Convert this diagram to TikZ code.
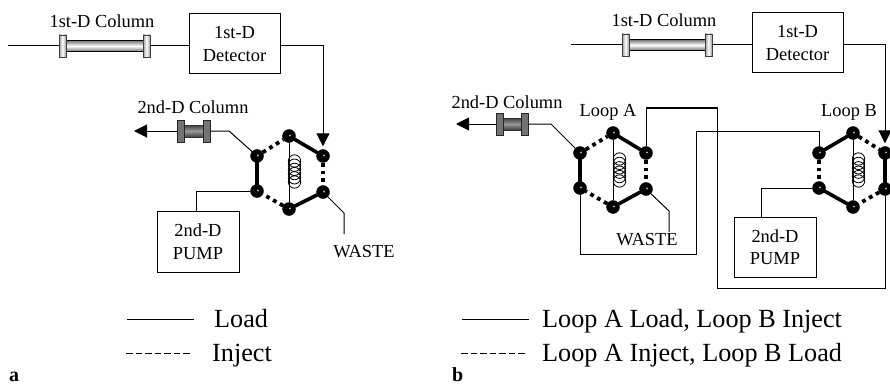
\documentclass[tikz,border=0pt]{standalone}
\usepackage{fontspec}
\setmainfont{Liberation Serif}
\usetikzlibrary{arrows.meta,calc}
\tikzset{
  lbl/.style={inner sep=0pt,font=\fontsize{18.4}{22.5}\selectfont,align=center},
  legendtxt/.style={inner sep=0pt,anchor=base west,font=\fontsize{26.2}{30}\selectfont},
  panel/.style={inner sep=0pt,anchor=base west,font=\fontsize{20}{24}\selectfont\bfseries},
  boxn/.style={draw,line width=1pt,inner sep=0pt,minimum width=#1,font=\fontsize{18.4}{22.5}\selectfont,align=center},
  port/.style={circle,fill=black,draw=black,inner sep=0pt,minimum size=13pt,
    path picture={\fill[gray!70] ($(path picture bounding box.center)+(1,-0.5)$) circle (1.1pt);}},
  pipe/.style={line width=1pt},
  onseg/.style={line width=3.6pt,line cap=round},
  offseg/.style={line width=3.8pt,dash pattern=on 3.8pt off 4pt},
  loopl/.style={line width=1pt},
  coil/.style={line width=.8pt},
  tubeL/.style={inner sep=0pt,draw=black,line width=1.2pt,top color=black!55,bottom color=black!55,middle color=white},
  flangeL/.style={inner sep=0pt,draw=black!75,line width=.8pt,left color=black!40,right color=black!40,middle color=white},
  tubeD/.style={inner sep=0pt,draw=black!80,line width=.8pt,top color=black!75,bottom color=black!75,middle color=black!40},
  flangeD/.style={inner sep=0pt,draw=black!85,line width=.8pt,fill=black!55},
  arr/.style={-{Triangle[length=13pt,width=13pt]},line width=1pt},
  legdash/.style={line width=1pt,dash pattern=on 6.5pt off 3pt},
}
\begin{document}
\begin{tikzpicture}[x=1pt,y=-1pt]
\useasboundingbox (0,0) rectangle (890,385);
% ===== panel a =====
\node[boxn=91pt,minimum height=60pt] (detA) at (234.5,44) {1st-D\\Detector};
\node[boxn=82pt,minimum height=61pt] (pumpA) at (198,241.5) {2nd-D\\PUMP};
\node[tubeL,minimum width=78pt,minimum height=11pt] (c1tA) at (104.5,46) {};
\node[flangeL,minimum width=7pt,minimum height=22pt] (c1lA) at (62.5,46) {};
\node[flangeL,minimum width=7pt,minimum height=22pt] (c1rA) at (146.5,46) {};
\node[tubeD,minimum width=19pt,minimum height=12pt] (c2tA) at (194,131) {};
\node[flangeD,minimum width=7pt,minimum height=22pt] (c2lA) at (181,131) {};
\node[flangeD,minimum width=7pt,minimum height=22pt] (c2rA) at (207,131) {};
\coordinate (startA) at (8,46);
\coordinate (endA) at (134,131);
\coordinate (detcA) at (323,46);
\coordinate (bendA) at (229,131);
\coordinate (wasteA1) at (344,213);
\coordinate (wasteA2) at (344,234);
\coordinate (pumpTopA) at (196,211);
\node[port] (a1) at (257,156) {};
\node[port] (a2) at (289,136) {};
\node[port] (a3) at (323,156) {};
\node[port] (a4) at (323,192) {};
\node[port] (a5) at (289,209) {};
\node[port] (a6) at (257,191) {};
\draw[loopl] (a2) -- (a5);
\foreach \yy in {161,165.2,169.4,173.6,177.8,182} \draw[coil] (294.5,\yy) circle (6.2pt);
\draw[onseg] (a1) -- (a6);
\draw[onseg] (a2) -- (a3);
\draw[onseg] (a4) -- (a5);
\draw[offseg] (a1) -- (a2);
\draw[offseg] (a3) -- (a4);
\draw[offseg] (a5) -- (a6);
\draw[pipe] (startA) -- (c1lA);
\draw[pipe] (c1rA) -- (c1rA -| detA.west);
\draw[arr,shorten >=3pt] (detA.east |- detcA) -- (detcA) -- (a3);
\draw[pipe] (a1) -- (bendA) -- (c2rA);
\draw[arr] (c2lA) -- (endA);
\draw[pipe] (a6) -| (pumpTopA);
\draw[pipe] (a4) -- (wasteA1) -- (wasteA2);
\node[lbl] (t1) at (102,21) {1st-D Column};
\node[lbl] (t2) at (193,107) {2nd-D Column};
\node[lbl] (t3) at (364,252) {WASTE};
\coordinate (lgA1) at (127,319);
\coordinate (lgA2) at (194,319);
\coordinate (lgA3) at (126,353);
\coordinate (lgA4) at (192,353);
\draw[pipe] (lgA1) -- (lgA2);
\draw[legdash] (lgA3) -- (lgA4);
\node[legendtxt] (t4) at (214,327) {Load};
\node[legendtxt] (t5) at (212,361) {Inject};
\node[panel] (pa) at (9,381) {a};
% ===== panel b =====
\node[boxn=91pt,minimum height=60pt] (detB) at (797.5,43) {1st-D\\Detector};
\node[boxn=82pt,minimum height=60pt] (pumpB) at (775,247) {2nd-D\\PUMP};
\node[tubeL,minimum width=78pt,minimum height=11pt] (c1tB) at (667,45) {};
\node[flangeL,minimum width=7pt,minimum height=22pt] (c1lB) at (625.5,45) {};
\node[flangeL,minimum width=7pt,minimum height=22pt] (c1rB) at (708.5,45) {};
\node[tubeD,minimum width=19pt,minimum height=12pt] (c2tB) at (512,124) {};
\node[flangeD,minimum width=7pt,minimum height=22pt] (c2lB) at (499.5,124) {};
\node[flangeD,minimum width=7pt,minimum height=22pt] (c2rB) at (525,124) {};
\coordinate (startB) at (571,45);
\coordinate (endB) at (456,124);
\coordinate (detcB) at (885,45);
\coordinate (bendB) at (551,124);
\coordinate (wasteB1) at (669,211);
\coordinate (wasteB2) at (669,232);
\coordinate (pumpTopB) at (761,217);
\coordinate (r1) at (646,108);
\coordinate (r2) at (717,108);
\coordinate (r3) at (717,288);
\coordinate (r4) at (885,288);
\coordinate (s1) at (580,254);
\coordinate (s2) at (696,254);
\coordinate (s3) at (696,131);
\coordinate (s4) at (819,131);
\node[port] (b1) at (580,153) {};
\node[port] (b2) at (613,133) {};
\node[port] (b3) at (646,153) {};
\node[port] (b4) at (646,189) {};
\node[port] (b5) at (613,207) {};
\node[port] (b6) at (580,188) {};
\node[port] (d1) at (819,153) {};
\node[port] (d2) at (853,133) {};
\node[port] (d3) at (885,153) {};
\node[port] (d4) at (885,189) {};
\node[port] (d5) at (853,207) {};
\node[port] (d6) at (819,188) {};
\draw[loopl] (b2) -- (b5);
\draw[loopl] (d2) -- (d5);
\foreach \yy in {159,163.4,167.8,172.2,176.6,181} {
  \draw[coil] (619.5,\yy) circle (6.2pt);
  \draw[coil] (858.5,\yy) circle (6.2pt);
}
\draw[onseg] (b1) -- (b6);
\draw[onseg] (b2) -- (b3);
\draw[onseg] (b4) -- (b5);
\draw[offseg] (b1) -- (b2);
\draw[offseg] (b3) -- (b4);
\draw[offseg] (b5) -- (b6);
\draw[onseg] (d1) -- (d2);
\draw[onseg] (d3) -- (d4);
\draw[onseg] (d5) -- (d6);
\draw[offseg] (d2) -- (d3);
\draw[offseg] (d1) -- (d6);
\draw[offseg] (d4) -- (d5);
\draw[pipe] (startB) -- (c1lB);
\draw[pipe] (c1rB) -- (c1rB -| detB.west);
\draw[arr,shorten >=3pt] (detB.east |- detcB) -- (detcB) -- (d3);
\draw[pipe] (b1) -- (bendB) -- (c2rB);
\draw[arr] (c2lB) -- (endB);
\draw[pipe] (b3) -- (r1) -- (r2) -- (r3) -- (r4) -- (d4);
\draw[pipe] (b6) -- (s1) -- (s2) -- (s3) -- (s4) -- (d1);
\draw[pipe] (d6) -| (pumpTopB);
\draw[pipe] (b4) -- (wasteB1) -- (wasteB2);
\node[lbl] (t6) at (664,20) {1st-D Column};
\node[lbl] (t7) at (507,102) {2nd-D Column};
\node[lbl] (t8) at (608,112) {Loop A};
\node[lbl] (t9) at (849,112) {Loop B};
\node[lbl] (t10) at (647,240) {WASTE};
\coordinate (lgB1) at (462,319);
\coordinate (lgB2) at (529,319);
\coordinate (lgB3) at (461,353);
\coordinate (lgB4) at (527,353);
\draw[pipe] (lgB1) -- (lgB2);
\draw[legdash] (lgB3) -- (lgB4);
\node[legendtxt] (t11) at (542,327) {Loop A Load, Loop B Inject};
\node[legendtxt] (t12) at (542,361) {Loop A Inject, Loop B Load};
\node[panel] (pb) at (452,381) {b};
\end{tikzpicture}
\end{document}
